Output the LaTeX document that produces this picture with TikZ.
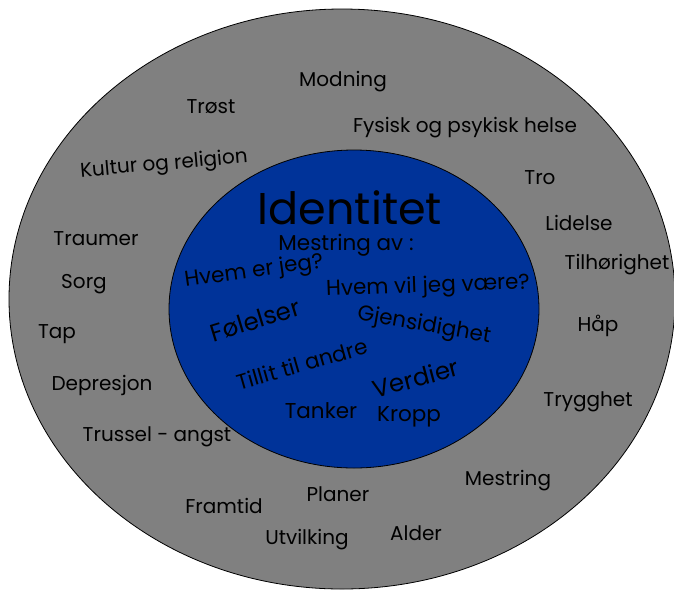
\documentclass[tikz,border=0pt]{standalone}
\usepackage{fontspec}
\setmainfont{Poppins}
\definecolor{ytregraa}{RGB}{128,128,128}
\definecolor{kjerneblaa}{RGB}{0,51,153}
\tikzset{
  ord/.style={inner sep=0pt, font=\fontsize{20}{24}\selectfont},
  indre/.style={inner sep=0pt, font=\fontsize{21.5}{25}\selectfont},
  stort/.style={inner sep=0pt, font=\fontsize{24.5}{28}\selectfont},
  tittel/.style={inner sep=0pt, font=\fontsize{44.5}{50}\selectfont},
}
\begin{document}
\begin{tikzpicture}[x=1pt, y=-1pt]
\useasboundingbox (0,0) rectangle (674,590);
\draw[fill=ytregraa, line width=0.8pt] (342,299) ellipse [x radius=333, y radius=290];
\draw[fill=kjerneblaa, line width=0.8pt] (354,309) ellipse [x radius=185, y radius=159];
% ytre ring
\node[ord] (ytre0) at (343,82){Modning};
\node[ord] (ytre1) at (211,107){Trøst};
\node[ord] (ytre2) at (465,128){Fysisk og psykisk helse};
\node[ord, rotate=5] (ytre3) at (164,165){Kultur og religion};
\node[ord] (ytre4) at (540,178){Tro};
\node[ord] (ytre5) at (579,223){Lidelse};
\node[ord] (ytre6) at (617,265){Tilhørighet};
\node[ord] (ytre7) at (96,239){Traumer};
\node[ord] (ytre8) at (84,284){Sorg};
\node[ord] (ytre9) at (57,334){Tap};
\node[ord] (ytre10) at (598,326){Håp};
\node[ord] (ytre11) at (102,385){Depresjon};
\node[ord] (ytre12) at (588,402){Trygghet};
\node[ord] (ytre13) at (157,437){Trussel - angst};
\node[ord] (ytre14) at (508,481){Mestring};
\node[ord] (ytre15) at (224,506){Framtid};
\node[ord] (ytre16) at (338,494){Planer};
\node[ord] (ytre17) at (416,533){Alder};
\node[ord] (ytre18) at (307,540){Utvilking};
% kjerne
\node[tittel] (kjerne0) at (350,208){Identitet};
\node[indre] (kjerne1) at (346,245){Mestring av :};
\node[indre, rotate=8] (kjerne2) at (254,272){Hvem er jeg?};
\node[indre, rotate=2] (kjerne3) at (428,287){Hvem vil jeg være?};
\node[stort, rotate=17] (kjerne4) at (255,320){Følelser};
\node[indre, rotate=-10] (kjerne5) at (424,326){Gjensidighet};
\node[indre, rotate=16] (kjerne6) at (302,364){Tillit til andre};
\node[stort, rotate=15] (kjerne7) at (416,378){Verdier};
\node[indre] (kjerne8) at (321,411){Tanker};
\node[indre] (kjerne9) at (409,417){Kropp};
\end{tikzpicture}
\end{document}
